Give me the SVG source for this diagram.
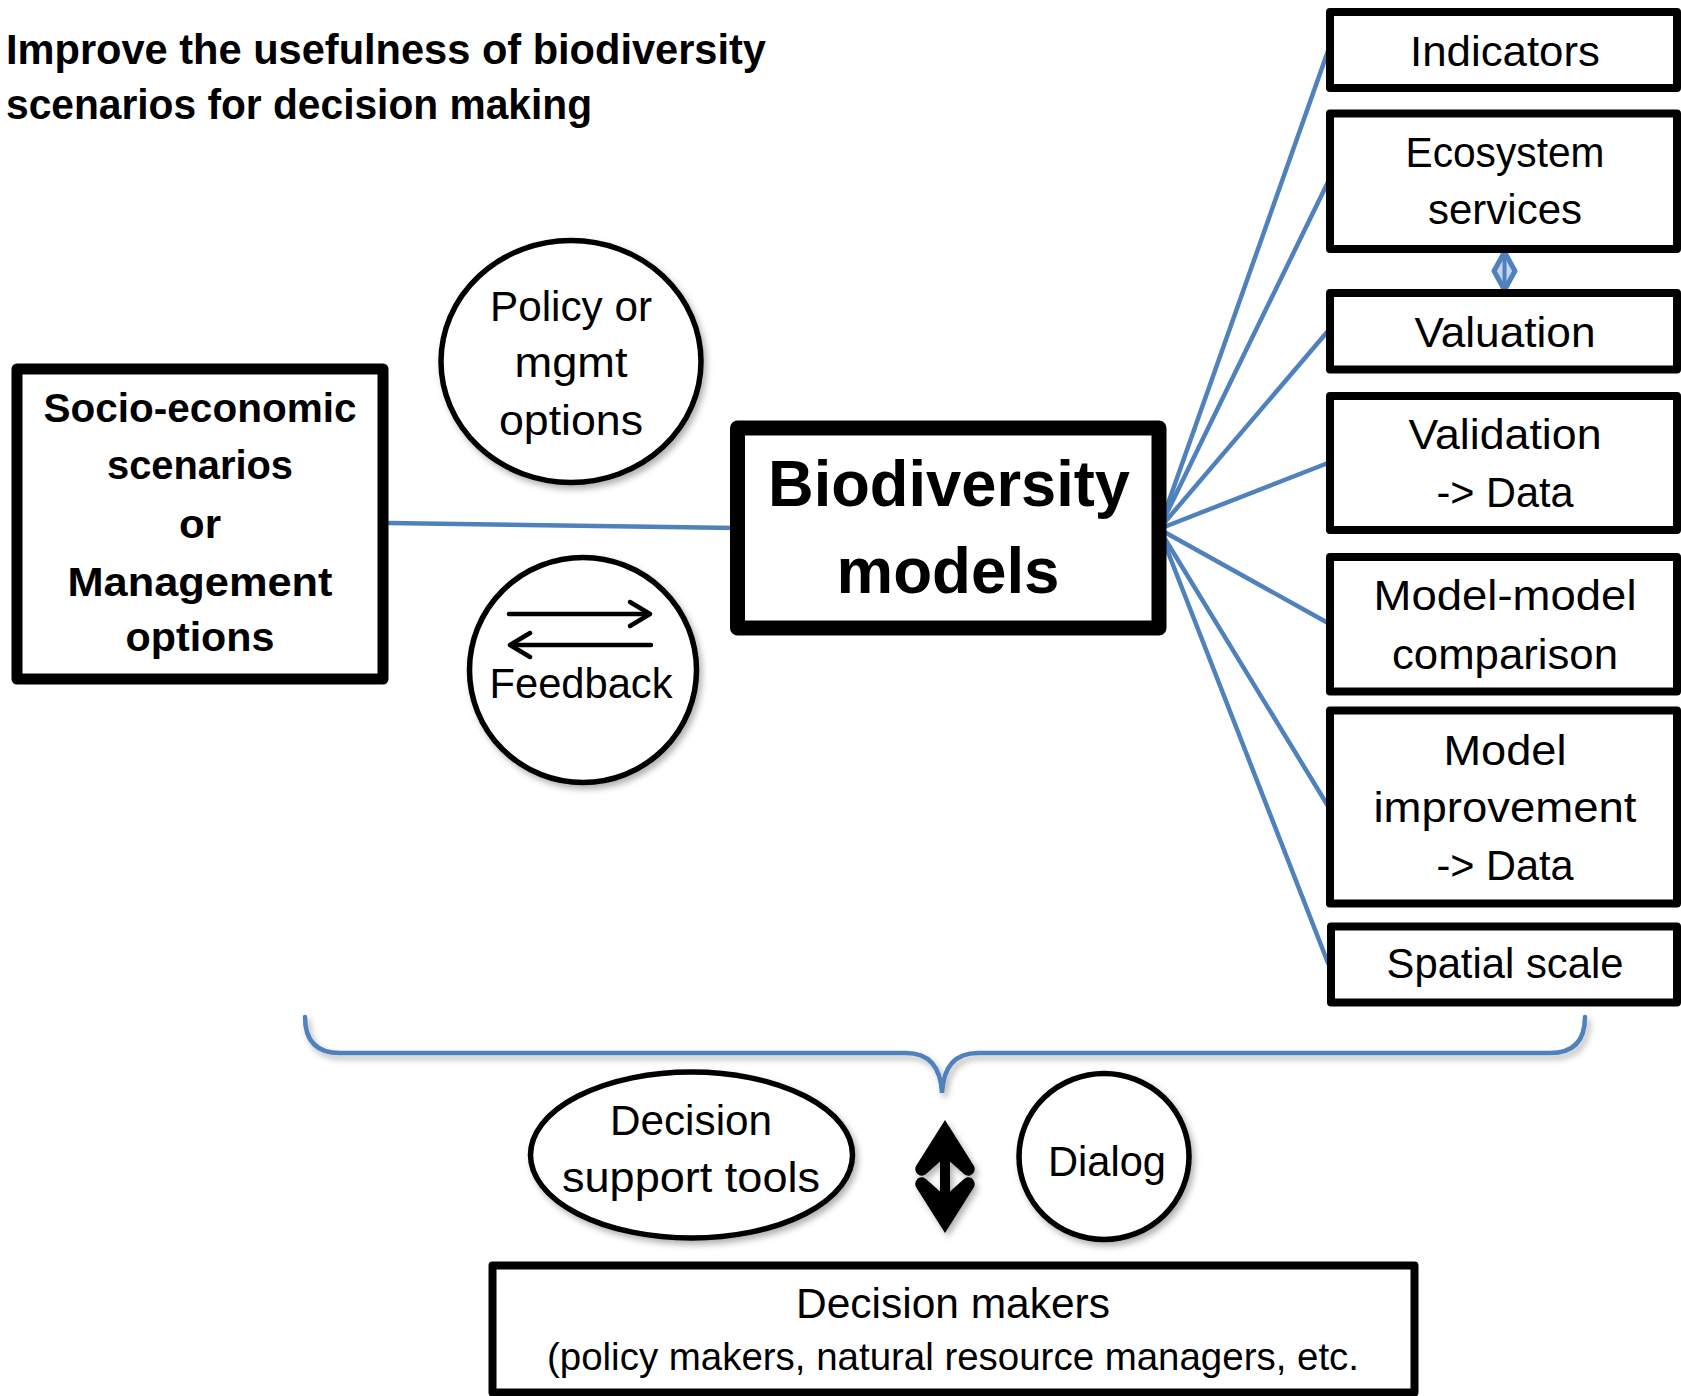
<svg xmlns="http://www.w3.org/2000/svg" width="1681" height="1396" viewBox="0 0 1681 1396">
<style>
text{font-family:"Liberation Sans",Arial,sans-serif;fill:#000;text-anchor:middle}
text.l{text-anchor:start}
.b{font-weight:bold}
.box{fill:#fff;stroke:#000;stroke-width:8;stroke-linejoin:round}
.box.w11{stroke-width:11}
.box.w15{stroke-width:15}
.ell{fill:#fff;stroke:#000;stroke-width:5.5}
.blue{fill:none;stroke:#4f81bd;stroke-width:4.5;stroke-linecap:round}
.r{font-size:43px}
</style>
<defs>
<filter id="sh" x="-20%" y="-20%" width="140%" height="140%">
<feDropShadow dx="3" dy="4" stdDeviation="3" flood-color="#000" flood-opacity="0.3"/>
</filter>
</defs>
<rect width="1681" height="1396" fill="#fff"/>

<g id="title">
<text class="b l" x="6" y="64" font-size="42" textLength="760" lengthAdjust="spacingAndGlyphs">Improve the usefulness of biodiversity</text>
<text class="b l" x="6" y="119" font-size="42" textLength="586" lengthAdjust="spacingAndGlyphs">scenarios for decision making</text>
</g>

<g id="connectors">
<line class="blue" x1="388" y1="523" x2="737" y2="528"/>
<line class="blue" x1="1159" y1="529" x2="1328" y2="51"/>
<line class="blue" x1="1159" y1="529" x2="1328" y2="182"/>
<line class="blue" x1="1159" y1="529" x2="1328" y2="331"/>
<line class="blue" x1="1159" y1="529" x2="1328" y2="463"/>
<line class="blue" x1="1159" y1="529" x2="1328" y2="623"/>
<line class="blue" x1="1159" y1="529" x2="1328" y2="806"/>
<line class="blue" x1="1159" y1="529" x2="1328" y2="963"/>
<g id="diamond">
<polygon points="1504.5,252 1515,271 1504.5,290 1494,271" fill="#c5d6ec" stroke="#4f81bd" stroke-width="5" stroke-linejoin="round"/>
<line x1="1504.5" y1="252" x2="1504.5" y2="290" stroke="#4f81bd" stroke-width="4"/>
</g>
<path class="blue" filter="url(#sh)" d="M305,1017 Q305,1053 340,1053 L906,1053 Q940,1053 942,1093 Q944,1053 978,1053 L1550,1053 Q1585,1053 1585,1017"/>
<g id="updown" filter="url(#sh)">
<rect x="940" y="1145" width="10" height="65" fill="#000"/>
<path d="M945,1120 L974,1166 C977,1172 970,1179 964,1174 L945,1157 L926,1174 C920,1179 913,1172 916,1166 Z" fill="#000"/>
<path d="M945,1233 L974,1187 C977,1181 970,1174 964,1179 L945,1196 L926,1179 C920,1174 913,1181 916,1187 Z" fill="#000"/>
</g>
</g>

<g id="socio">
<rect class="box w11" x="17" y="369" width="366" height="310"/>
<text class="b" x="200" y="422" font-size="40" textLength="313" lengthAdjust="spacingAndGlyphs">Socio-economic</text>
<text class="b" x="200" y="479" font-size="40" textLength="186" lengthAdjust="spacingAndGlyphs">scenarios</text>
<text class="b" x="200" y="538" font-size="40" textLength="42" lengthAdjust="spacingAndGlyphs">or</text>
<text class="b" x="200" y="596" font-size="40" textLength="265" lengthAdjust="spacingAndGlyphs">Management</text>
<text class="b" x="200" y="651" font-size="40" textLength="149" lengthAdjust="spacingAndGlyphs">options</text>
</g>

<g id="policy">
<ellipse class="ell" filter="url(#sh)" cx="571" cy="361.5" rx="130" ry="121"/>
<text x="571" y="321" font-size="42" textLength="162" lengthAdjust="spacingAndGlyphs">Policy or</text>
<text x="571" y="377" font-size="42" textLength="113" lengthAdjust="spacingAndGlyphs">mgmt</text>
<text x="571" y="435" font-size="42" textLength="144" lengthAdjust="spacingAndGlyphs">options</text>
</g>

<g id="feedback">
<ellipse class="ell" filter="url(#sh)" cx="583" cy="670" rx="113.5" ry="112.5"/>
<g fill="none" stroke="#000" stroke-width="4.5" stroke-linecap="round" stroke-linejoin="round">
<line x1="509" y1="614" x2="649" y2="614"/>
<polyline points="630,602 650,614 630,626"/>
<line x1="651" y1="645" x2="511" y2="645"/>
<polyline points="530,633 510,645 530,657"/>
</g>
<text x="581" y="698" font-size="42" textLength="183" lengthAdjust="spacingAndGlyphs">Feedback</text>
</g>

<g id="biodiversity">
<rect class="box w15" x="737.5" y="428" width="421.5" height="200"/>
<text class="b" x="949" y="506" font-size="64" textLength="362" lengthAdjust="spacingAndGlyphs">Biodiversity</text>
<text class="b" x="948" y="593" font-size="64" textLength="223" lengthAdjust="spacingAndGlyphs">models</text>
</g>

<g id="indicators">
<rect class="box" x="1330" y="12" width="347" height="76"/>
<text class="r" x="1505" y="66" textLength="190" lengthAdjust="spacingAndGlyphs">Indicators</text>
</g>
<g id="ecosystem">
<rect class="box" x="1330" y="113.5" width="347" height="135.5"/>
<text class="r" x="1505" y="167" textLength="199" lengthAdjust="spacingAndGlyphs">Ecosystem</text>
<text class="r" x="1505" y="224" textLength="154" lengthAdjust="spacingAndGlyphs">services</text>
</g>
<g id="valuation">
<rect class="box" x="1330" y="293" width="347" height="76.5"/>
<text class="r" x="1505" y="347" textLength="181" lengthAdjust="spacingAndGlyphs">Valuation</text>
</g>
<g id="validation">
<rect class="box" x="1330" y="396" width="347" height="134"/>
<text class="r" x="1505" y="449" textLength="193" lengthAdjust="spacingAndGlyphs">Validation</text>
<text class="r" x="1505" y="507" textLength="137" lengthAdjust="spacingAndGlyphs">-&gt; Data</text>
</g>
<g id="modelmodel">
<rect class="box" x="1330" y="557" width="347" height="134.5"/>
<text class="r" x="1505" y="610" textLength="263" lengthAdjust="spacingAndGlyphs">Model-model</text>
<text class="r" x="1505" y="669" textLength="226" lengthAdjust="spacingAndGlyphs">comparison</text>
</g>
<g id="improvement">
<rect class="box" x="1330" y="710.5" width="347" height="193"/>
<text class="r" x="1505" y="765" textLength="123" lengthAdjust="spacingAndGlyphs">Model</text>
<text class="r" x="1505" y="822" textLength="263" lengthAdjust="spacingAndGlyphs">improvement</text>
<text class="r" x="1505" y="880" textLength="137" lengthAdjust="spacingAndGlyphs">-&gt; Data</text>
</g>
<g id="spatial">
<rect class="box" x="1331" y="926.5" width="346" height="76"/>
<text class="r" x="1505" y="978" textLength="237" lengthAdjust="spacingAndGlyphs">Spatial scale</text>
</g>

<g id="dst">
<ellipse class="ell" filter="url(#sh)" cx="691.5" cy="1155" rx="161" ry="83"/>
<text x="691" y="1135" font-size="43" textLength="162" lengthAdjust="spacingAndGlyphs">Decision</text>
<text x="691" y="1192" font-size="43" textLength="258" lengthAdjust="spacingAndGlyphs">support tools</text>
</g>

<g id="dialog">
<ellipse class="ell" filter="url(#sh)" cx="1104" cy="1156.5" rx="85" ry="83"/>
<text x="1107" y="1176" font-size="42" textLength="118" lengthAdjust="spacingAndGlyphs">Dialog</text>
</g>

<g id="makers">
<rect class="box" x="492.5" y="1265.5" width="922" height="127"/>
<text x="953" y="1318" font-size="42" textLength="314" lengthAdjust="spacingAndGlyphs">Decision makers</text>
<text x="953" y="1370" font-size="38.5" textLength="812" lengthAdjust="spacingAndGlyphs">(policy makers, natural resource managers, etc.</text>
</g>
</svg>
